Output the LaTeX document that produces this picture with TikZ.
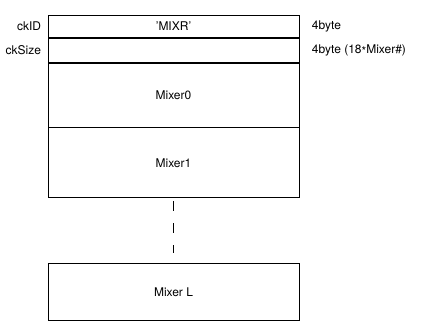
\documentclass[tikz,border=0pt]{standalone}
\usepackage{fontspec}
\setmainfont{TeX Gyre Heros}
\usetikzlibrary{positioning}
\tikzset{
  field/.style={draw, line width=0.8pt, minimum width=251pt, inner sep=0pt, anchor=north},
  side/.style={font=\fontsize{12}{14}\selectfont}
}
\begin{document}
\begin{tikzpicture}[x=1pt, y=-1pt, font=\fontsize{12}{14}\selectfont]
  \useasboundingbox (0,0) rectangle (426,335);
  \node[field, minimum height=22pt] (ckid) at (173.5,15) {'MIXR'};
  \node[field, minimum height=24pt, below=0pt of ckid] (cksize) {};
  \node[field, minimum height=64pt, below=0pt of cksize] (mix0) {Mixer0};
  \node[field, minimum height=70pt, below=0pt of mix0] (mix1) {Mixer1};
  \node[field, minimum height=57pt] (mixl) at (173.5,263) {Mixer L};
  \foreach \f/\l/\r in {ckid/ckID/4byte,
      cksize/ckSize/{4byte (18\raisebox{-0.35ex}{*}Mixer\#)}} {
    \node[side, left=3pt of \f.west] {\l};
    \node[side, right=9pt of \f.east] {\r};
  }
  \draw[line width=0.8pt, dash pattern=on 10pt off 12pt, shorten <=3pt, shorten >=10pt]
    (mix1.south) -- (mixl.north);
\end{tikzpicture}
\end{document}
